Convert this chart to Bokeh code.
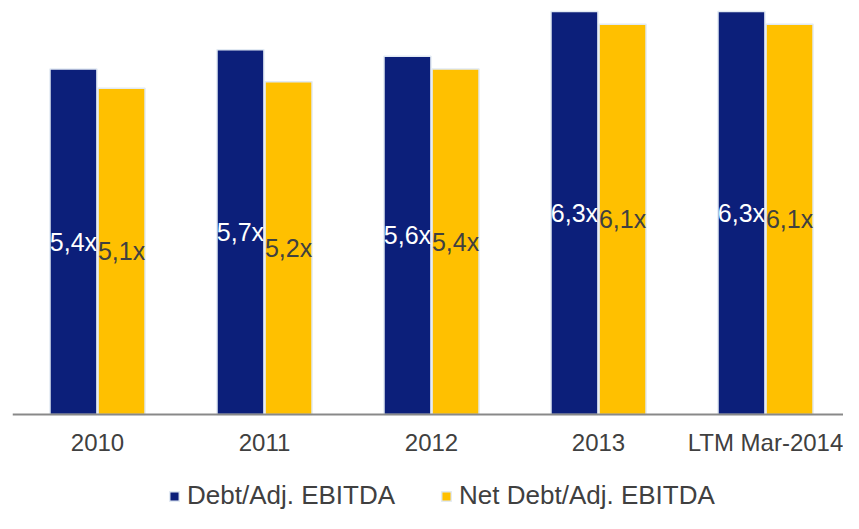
import numpy as np
from bokeh.plotting import figure
from bokeh.models import ColumnDataSource, Range1d, FixedTicker, Legend, LegendItem, LabelSet
from bokeh.core.properties import value
from bokeh.embed import file_html
from bokeh.resources import INLINE

categories = ["2010", "2011", "2012", "2013", "LTM Mar-2014"]
debt_ebitda = [5.4, 5.7, 5.6, 6.3, 6.3]
net_debt_ebitda = [5.1, 5.2, 5.4, 6.1, 6.1]
series_names = ["Debt/Adj. EBITDA", "Net Debt/Adj. EBITDA"]

BLUE = "#0C1F7A"
YELLOW = "#FFC000"
EDGE = "#E2EAF3"
TXT = "#404040"
FONT = "Liberation Sans"

idx = np.arange(len(categories))
off = 0.144
bw = 0.281

def fmt(v):
    return ("%.1f" % v).replace(".", ",") + "x"

src1 = ColumnDataSource(dict(x=idx - off, top=debt_ebitda, mid=[v / 2 for v in debt_ebitda],
                             lab=[fmt(v) for v in debt_ebitda]))
src2 = ColumnDataSource(dict(x=idx + off, top=net_debt_ebitda, mid=[v / 2 for v in net_debt_ebitda],
                             lab=[fmt(v) for v in net_debt_ebitda]))

p = figure(width=843, height=513, output_backend="svg", toolbar_location=None,
           x_range=Range1d(-0.509, 4.467), y_range=Range1d(-1.548, 6.47),
           min_border_left=12, min_border_right=0, min_border_top=0, min_border_bottom=0)
p.outline_line_color = None
p.grid.visible = False
p.yaxis.visible = False

r1 = p.vbar(x="x", top="top", width=bw, source=src1, fill_color=BLUE, line_color=EDGE, line_width=1.5)
r2 = p.vbar(x="x", top="top", width=bw, source=src2, fill_color=YELLOW, line_color=EDGE, line_width=1.5)

p.add_layout(LabelSet(x="x", y="mid", text="lab", source=src1, text_align="center",
                      text_baseline="middle", text_color="white", text_font=value(FONT),
                      text_font_size="25px"))
p.add_layout(LabelSet(x="x", y="mid", text="lab", source=src2, text_align="center",
                      text_baseline="middle", text_color=TXT, text_font=value(FONT),
                      text_font_size="25px"))

ax = p.xaxis[0]
ax.fixed_location = 0
ax.ticker = FixedTicker(ticks=list(idx))
ax.major_label_overrides = {int(i): c for i, c in zip(idx, categories)}
ax.axis_line_color = "#898989"
ax.axis_line_width = 2
ax.major_tick_line_color = None
ax.minor_tick_line_color = None
ax.major_label_text_font = FONT
ax.major_label_text_font_size = "24px"
ax.major_label_text_color = TXT
ax.major_label_standoff = 9

legend = Legend(items=[LegendItem(label=series_names[0], renderers=[r1]),
                       LegendItem(label=series_names[1], renderers=[r2])],
                orientation="horizontal", location=(156, 2),
                glyph_width=12, glyph_height=12, label_standoff=7, spacing=45,
                padding=0, margin=0, border_line_color=None, background_fill_alpha=0,
                label_text_font=FONT, label_text_font_size="26px", label_text_color=TXT)
p.add_layout(legend, "center")

open("out.html", "w").write(file_html(p, INLINE))
